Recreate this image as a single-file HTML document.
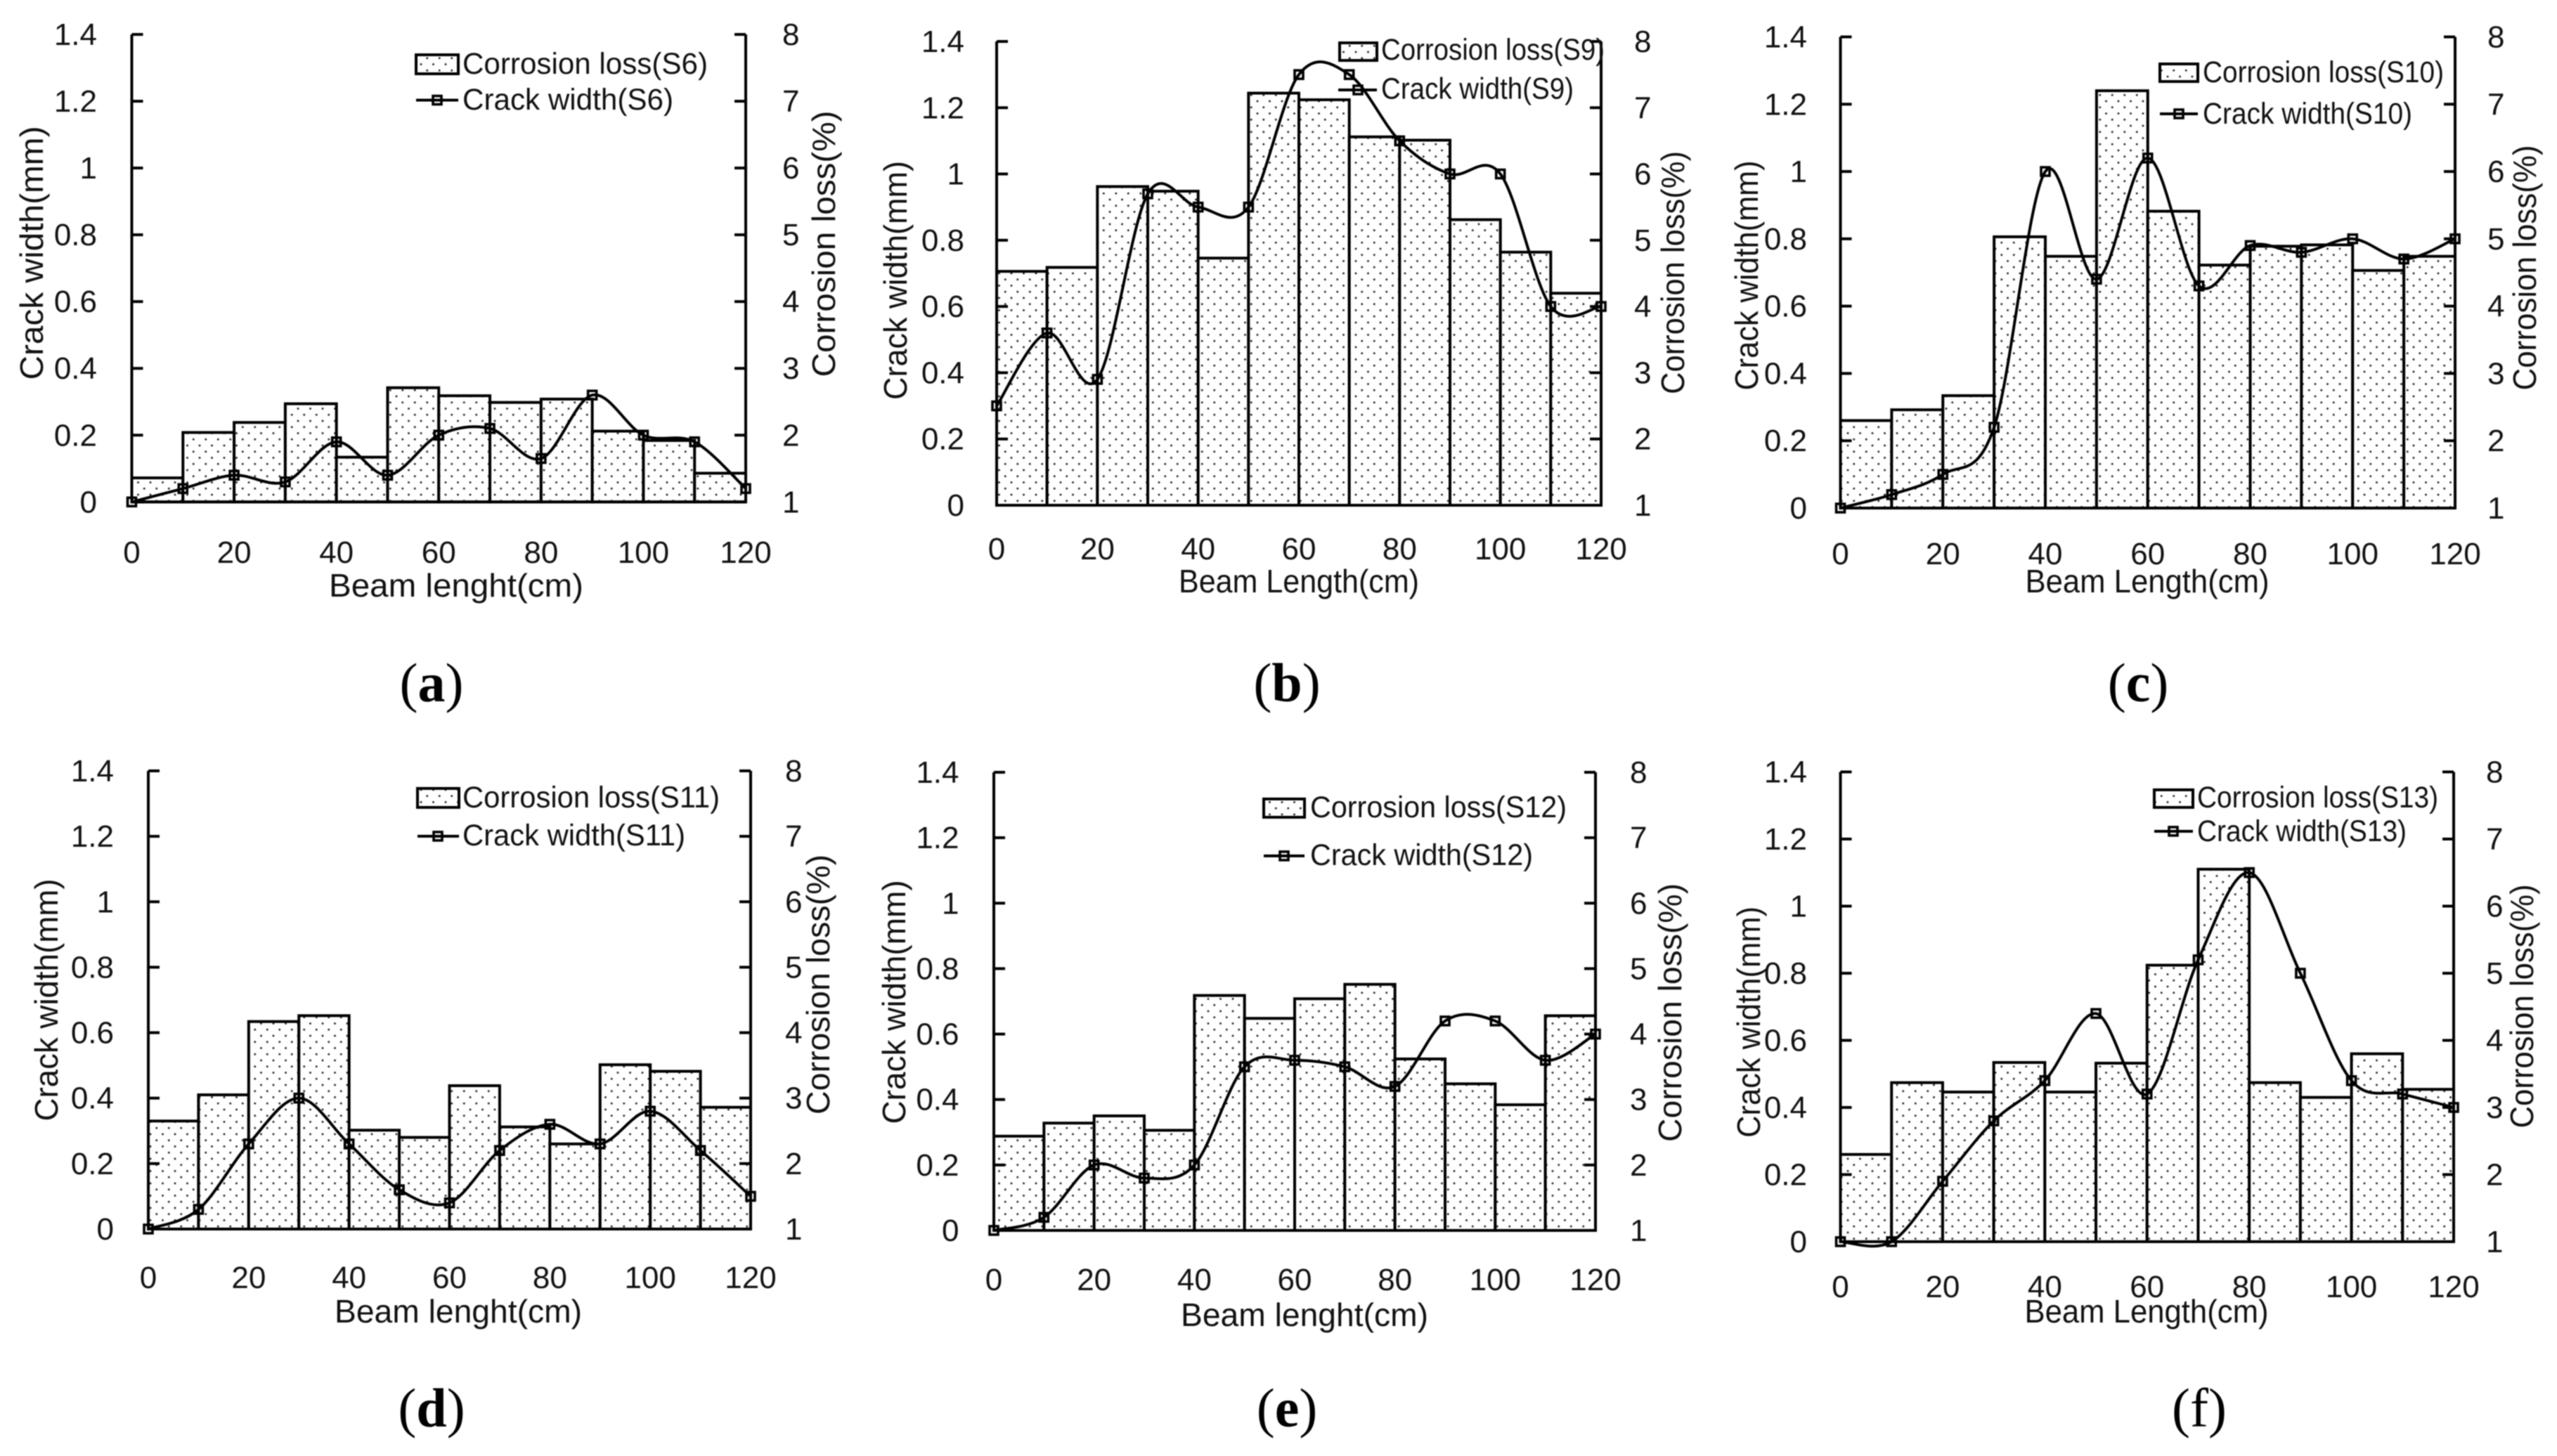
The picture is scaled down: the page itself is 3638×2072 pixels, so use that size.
<!DOCTYPE html>
<html lang="en">
<head>
<meta charset="utf-8">
<title>Crack width and corrosion loss along beam length</title>
<style>
html,body{margin:0;padding:0;background:#fff;}
svg{display:block;filter:blur(0.7px);}
text{font-family:"Liberation Sans",sans-serif;fill:#111;}
.tick{font-size:44px;}
.title{font-size:46px;}
.legend{font-size:43px;}
.cap{font-family:"Liberation Serif",serif;font-size:78px;text-anchor:middle;fill:#000;}
.cap .b{font-weight:bold;}
.lbox{fill:url(#dots);stroke:#000;stroke-width:4;}
.lline{stroke:#000;stroke-width:4;}
.lmark{fill:none;stroke:#000;stroke-width:3.6;}
</style>
</head>
<body>
<svg id="figure" xmlns="http://www.w3.org/2000/svg" width="3638" height="2072" viewBox="0 0 3638 2072">
<defs>
<pattern id="dots" width="17.5" height="17.5" patternUnits="userSpaceOnUse">
<rect width="17.5" height="17.5" fill="#fff"/>
<circle cx="4" cy="4" r="1.5" fill="#333"/>
<circle cx="12.75" cy="12.75" r="1.5" fill="#333"/>
</pattern>
</defs>

<g>
<g id="plot-a"></g>
<text class="title" x="649" y="849" text-anchor="middle" textLength="362" lengthAdjust="spacingAndGlyphs">Beam lenght(cm)</text>
<text class="title" transform="translate(61 360) rotate(-90)" text-anchor="middle" textLength="361" lengthAdjust="spacingAndGlyphs">Crack width(mm)</text>
<text class="title" transform="translate(1188 347) rotate(-90)" text-anchor="middle" textLength="379" lengthAdjust="spacingAndGlyphs">Corrosion loss(%)</text>
<g>
<rect class="lbox" x="592" y="78" width="60" height="27"/>
<text class="legend" x="658" y="105" textLength="349" lengthAdjust="spacingAndGlyphs">Corrosion loss(S6)</text>
<line class="lline" x1="592" y1="142.5" x2="652" y2="142.5"/>
<rect class="lmark" x="616" y="136.5" width="12" height="12"/>
<text class="legend" x="658" y="156" textLength="300" lengthAdjust="spacingAndGlyphs">Crack width(S6)</text>
</g>
<text class="cap" x="614" y="998">(<tspan class="b">a</tspan>)</text>
</g>

<g>
<g id="plot-b"></g>
<text class="title" x="1848" y="843" text-anchor="middle" textLength="342" lengthAdjust="spacingAndGlyphs">Beam Length(cm)</text>
<text class="title" transform="translate(1290 399) rotate(-90)" text-anchor="middle" textLength="340" lengthAdjust="spacingAndGlyphs">Crack width(mm)</text>
<text class="title" transform="translate(2396 388) rotate(-90)" text-anchor="middle" textLength="346" lengthAdjust="spacingAndGlyphs">Corrosion loss(%)</text>
<g>
<rect class="lbox" x="1906" y="61" width="53" height="25"/>
<text class="legend" x="1965" y="85" textLength="318" lengthAdjust="spacingAndGlyphs">Corrosion loss(S9)</text>
<line class="lline" x1="1904" y1="128" x2="1959" y2="128"/>
<rect class="lmark" x="1926" y="122" width="12" height="12"/>
<text class="legend" x="1965" y="140.6" textLength="274" lengthAdjust="spacingAndGlyphs">Crack width(S9)</text>
</g>
<text class="cap" x="1831" y="998">(<tspan class="b">b</tspan>)</text>
</g>

<g>
<g id="plot-c"></g>
<text class="title" x="3055" y="843" text-anchor="middle" textLength="347" lengthAdjust="spacingAndGlyphs">Beam Length(cm)</text>
<text class="title" transform="translate(2501 392) rotate(-90)" text-anchor="middle" textLength="327" lengthAdjust="spacingAndGlyphs">Crack width(mm)</text>
<text class="title" transform="translate(3608 381) rotate(-90)" text-anchor="middle" textLength="349" lengthAdjust="spacingAndGlyphs">Corrosion loss(%)</text>
<g>
<rect class="lbox" x="3073" y="91" width="54" height="25"/>
<text class="legend" x="3134" y="117" textLength="343" lengthAdjust="spacingAndGlyphs">Corrosion loss(S10)</text>
<line class="lline" x1="3073" y1="162" x2="3127" y2="162"/>
<rect class="lmark" x="3094" y="156" width="12" height="12"/>
<text class="legend" x="3134" y="176" textLength="298" lengthAdjust="spacingAndGlyphs">Crack width(S10)</text>
</g>
<text class="cap" x="3042" y="998">(<tspan class="b">c</tspan>)</text>
</g>

<g>
<g id="plot-d"></g>
<text class="title" x="652" y="1882" text-anchor="middle" textLength="352" lengthAdjust="spacingAndGlyphs">Beam lenght(cm)</text>
<text class="title" transform="translate(82 1423) rotate(-90)" text-anchor="middle" textLength="345" lengthAdjust="spacingAndGlyphs">Crack width(mm)</text>
<text class="title" transform="translate(1180 1401) rotate(-90)" text-anchor="middle" textLength="370" lengthAdjust="spacingAndGlyphs">Corrosion loss(%)</text>
<g>
<rect class="lbox" x="594" y="1122" width="59" height="27"/>
<text class="legend" x="658" y="1149" textLength="366" lengthAdjust="spacingAndGlyphs">Corrosion loss(S11)</text>
<line class="lline" x1="594" y1="1190" x2="653" y2="1190"/>
<rect class="lmark" x="617" y="1184" width="12" height="12"/>
<text class="legend" x="658" y="1203" textLength="317" lengthAdjust="spacingAndGlyphs">Crack width(S11)</text>
</g>
<text class="cap" x="614" y="2030">(<tspan class="b">d</tspan>)</text>
</g>

<g>
<g id="plot-e"></g>
<text class="title" x="1856" y="1887" text-anchor="middle" textLength="352" lengthAdjust="spacingAndGlyphs">Beam lenght(cm)</text>
<text class="title" transform="translate(1288 1426) rotate(-90)" text-anchor="middle" textLength="347" lengthAdjust="spacingAndGlyphs">Crack width(mm)</text>
<text class="title" transform="translate(2392 1441) rotate(-90)" text-anchor="middle" textLength="368" lengthAdjust="spacingAndGlyphs">Corrosion loss(%)</text>
<g>
<rect class="lbox" x="1798" y="1137" width="58" height="26"/>
<text class="legend" x="1864" y="1163" textLength="365" lengthAdjust="spacingAndGlyphs">Corrosion loss(S12)</text>
<line class="lline" x1="1798" y1="1218" x2="1856" y2="1218"/>
<rect class="lmark" x="1821" y="1212" width="12" height="12"/>
<text class="legend" x="1864" y="1231" textLength="317" lengthAdjust="spacingAndGlyphs">Crack width(S12)</text>
</g>
<text class="cap" x="1831" y="2030">(<tspan class="b">e</tspan>)</text>
</g>

<g>
<g id="plot-f"></g>
<text class="title" x="3054" y="1882" text-anchor="middle" textLength="347" lengthAdjust="spacingAndGlyphs">Beam Length(cm)</text>
<text class="title" transform="translate(2504 1454.5) rotate(-90)" text-anchor="middle" textLength="329" lengthAdjust="spacingAndGlyphs">Crack width(mm)</text>
<text class="title" transform="translate(3604 1432) rotate(-90)" text-anchor="middle" textLength="347" lengthAdjust="spacingAndGlyphs">Corrosion loss(%)</text>
<g>
<rect class="lbox" x="3065" y="1124" width="55" height="25"/>
<text class="legend" x="3126" y="1149" textLength="343" lengthAdjust="spacingAndGlyphs">Corrosion loss(S13)</text>
<line class="lline" x1="3065" y1="1183" x2="3120" y2="1183"/>
<rect class="lmark" x="3086" y="1177" width="12" height="12"/>
<text class="legend" x="3126" y="1197" textLength="298" lengthAdjust="spacingAndGlyphs">Crack width(S13)</text>
</g>
<text class="cap" x="3129" y="2030">(f)</text>
</g>
</svg>

<script>
// Shared categories and tick labels
const binStarts = [0,10,20,30,40,50,60,70,80,90,100,110];
const crackPositions = [0,10,20,30,40,50,60,70,80,90,100,110,120];
const xTickLabels = [0,20,40,60,80,100,120];
const leftTickValues = [0,0.2,0.4,0.6,0.8,1,1.2,1.4];
const rightTickValues = [1,2,3,4,5,6,7,8];

// Corrosion loss (%) per 10 cm segment
const corrosionS6  = [1.36,2.04,2.19,2.47,1.67,2.71,2.59,2.49,2.54,2.06,1.92,1.43];
const corrosionS9  = [4.53,4.59,5.81,5.74,4.73,7.22,7.12,6.56,6.51,5.31,4.82,4.20];
const corrosionS10 = [2.30,2.46,2.67,5.03,4.74,7.20,5.41,4.61,4.89,4.91,4.53,4.74];
const corrosionS11 = [2.65,3.05,4.17,4.26,2.51,2.40,3.19,2.56,2.30,3.51,3.41,2.86];
const corrosionS12 = [2.44,2.64,2.75,2.53,4.59,4.24,4.54,4.76,3.62,3.24,2.92,4.28];
const corrosionS13 = [2.30,3.37,3.23,3.67,3.23,3.66,5.12,6.55,3.37,3.15,3.80,3.27];

// Crack width (mm)
const crackS6  = [0,0.04,0.08,0.06,0.18,0.08,0.2,0.22,0.13,0.32,0.2,0.18,0.04];
const crackS9  = [0.3,0.52,0.38,0.94,0.9,0.9,1.3,1.3,1.1,1,1,0.6,0.6];
const crackS10 = [0,0.04,0.1,0.24,1,0.68,1.04,0.66,0.78,0.76,0.8,0.74,0.8];
const crackS11 = [0,0.06,0.26,0.4,0.26,0.12,0.08,0.24,0.32,0.26,0.36,0.24,0.1];
const crackS12 = [0,0.04,0.2,0.16,0.2,0.5,0.52,0.5,0.44,0.64,0.64,0.52,0.6];
const crackS13 = [0,0,0.18,0.36,0.48,0.68,0.44,0.84,1.1,0.8,0.48,0.44,0.4];

const SVGNS = 'http://www.w3.org/2000/svg';
function mk(tag, attrs, parent) {
  const el = document.createElementNS(SVGNS, tag);
  for (const k in attrs) el.setAttribute(k, attrs[k]);
  parent.appendChild(el);
  return el;
}

function drawPanel(cfg, corrosion, crack) {
  const host = document.getElementById(cfg.id);
  const xScale = v => cfg.left + (v / 120) * (cfg.right - cfg.left);
  const yLeft = v => cfg.bottom - (v / 1.4) * (cfg.bottom - cfg.top);
  const yRight = v => cfg.bottom - ((v - 1) / 7) * (cfg.bottom - cfg.top);
  const stroke = {stroke:'#000', 'stroke-width':4};

  // Bars
  binStarts.forEach((start, i) => {
    const x0 = xScale(start), x1 = xScale(start + 10), y = yRight(corrosion[i]);
    const bar = mk('rect', {x:x0, y:y, width:x1 - x0, height:cfg.bottom - y, fill:'url(#dots)', stroke:'#000', 'stroke-width':4}, host);
    
    
  });

  // Axes
  const axL = mk('line', Object.assign({x1:cfg.left, y1:cfg.top, x2:cfg.left, y2:cfg.bottom}, stroke), host);
  
  
  const axR = mk('line', Object.assign({x1:cfg.right, y1:cfg.top, x2:cfg.right, y2:cfg.bottom}, stroke), host);
  
  
  const axB = mk('line', Object.assign({x1:cfg.left, y1:cfg.bottom, x2:cfg.right, y2:cfg.bottom}, stroke), host);
  
  

  // Left ticks
  leftTickValues.forEach(v => {
    const y = yLeft(v);
    const t = mk('line', Object.assign({x1:cfg.left, y1:y, x2:cfg.left + 16, y2:y}, stroke), host);
    
    
    const lab = mk('text', {class:'tick', x:cfg.leftLabelX, y:y + 15, 'text-anchor':'end'}, host);
    lab.textContent = String(v);
    
    
  });

  // Right ticks
  rightTickValues.forEach(v => {
    const y = yRight(v);
    const t = mk('line', Object.assign({x1:cfg.right - 16, y1:y, x2:cfg.right, y2:y}, stroke), host);
    
    
    const lab = mk('text', {class:'tick', x:cfg.rightLabelX, y:y + 15}, host);
    lab.textContent = String(v);
    
    
  });

  // X tick labels
  xTickLabels.forEach(v => {
    const lab = mk('text', {class:'tick', x:xScale(v), y:cfg.xLabelY, 'text-anchor':'middle'}, host);
    lab.textContent = String(v);
    
    
  });

  // Smoothed crack-width line
  const pts = crackPositions.map((p, i) => [xScale(p), yLeft(crack[i])]);
  let d = 'M' + pts[0][0] + ' ' + pts[0][1];
  for (let i = 0; i < pts.length - 1; i++) {
    const p0 = pts[Math.max(i - 1, 0)], p1 = pts[i], p2 = pts[i + 1], p3 = pts[Math.min(i + 2, pts.length - 1)];
    const c1x = p1[0] + (p2[0] - p0[0]) / 6, c1y = p1[1] + (p2[1] - p0[1]) / 6;
    const c2x = p2[0] - (p3[0] - p1[0]) / 6, c2y = p2[1] - (p3[1] - p1[1]) / 6;
    d += ' C' + c1x + ' ' + c1y + ' ' + c2x + ' ' + c2y + ' ' + p2[0] + ' ' + p2[1];
  }
  const curve = mk('path', {d:d, fill:'none', stroke:'#000', 'stroke-width':4}, host);
  
  

  pts.forEach(p => {
    const m = mk('rect', {x:p[0] - 6, y:p[1] - 6, width:12, height:12, fill:'none', stroke:'#000', 'stroke-width':3.6}, host);
    
    
  });
}

drawPanel({id:'plot-a', left:187.5, right:1061, top:49, bottom:714.3, leftLabelX:138, rightLabelX:1113, xLabelY:801}, corrosionS6, crackS6);
drawPanel({id:'plot-b', left:1418, right:2278, top:59, bottom:719, leftLabelX:1372, rightLabelX:2325, xLabelY:796}, corrosionS9, crackS9);
drawPanel({id:'plot-c', left:2618.5, right:3493, top:52.5, bottom:723, leftLabelX:2571, rightLabelX:3539, xLabelY:803}, corrosionS10, crackS10);
drawPanel({id:'plot-d', left:211, right:1068, top:1097, bottom:1749, leftLabelX:162, rightLabelX:1117, xLabelY:1833}, corrosionS11, crackS11);
drawPanel({id:'plot-e', left:1414, right:2270, top:1099, bottom:1751, leftLabelX:1364.5, rightLabelX:2319, xLabelY:1836}, corrosionS12, crackS12);
drawPanel({id:'plot-f', left:2618.5, right:3491, top:1098.5, bottom:1767, leftLabelX:2571, rightLabelX:3537, xLabelY:1846}, corrosionS13, crackS13);
</script>
</body>
</html>
